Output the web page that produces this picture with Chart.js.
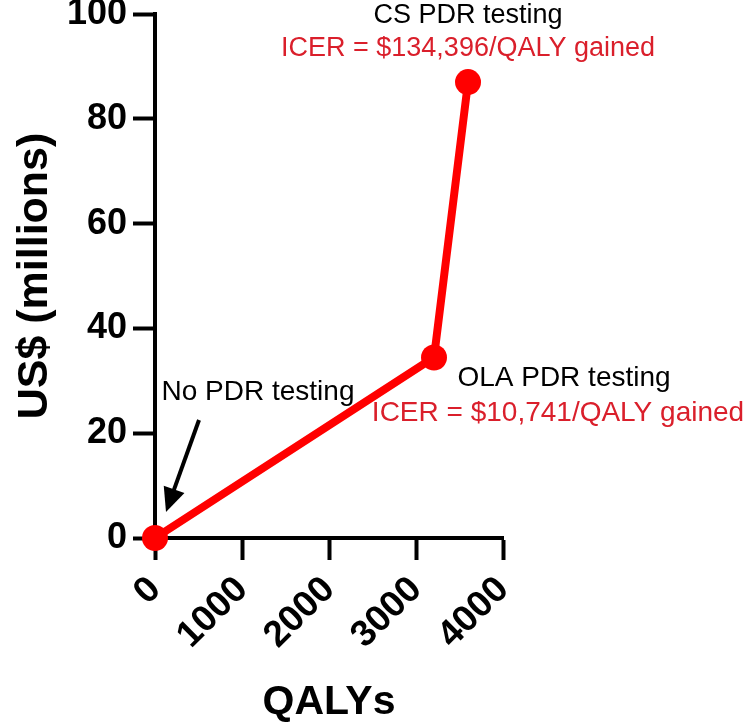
<!DOCTYPE html>
<html>
<head>
<meta charset="utf-8">
<script src="https://cdn.jsdelivr.net/npm/chart.js@4/dist/chart.umd.min.js"></script>
<style>
  html, body { margin: 0; padding: 0; background: #fff; }
  #wrap { width: 750px; height: 723px; }
</style>
</head>
<body>
<div id="wrap"><canvas id="cea"></canvas></div>
<script>
// Strategies on the cost-effectiveness frontier
const strategies = ["No PDR testing", "OLA PDR testing", "CS PDR testing"];
const qalys = [0, 3207, 3598];
const costMillions = [0, 34.45, 87.0];
const icerLabels = ["", "ICER = $10,741/QALY gained", "ICER = $134,396/QALY gained"];

// Axis ticks
const xTicks = [0, 1000, 2000, 3000, 4000];
const yTicks = [0, 20, 40, 60, 80, 100];

const FONT = "'Liberation Sans', Arial, Helvetica, sans-serif";
const lineRed = "#ff0000";
const textRed = "#da1f2b";

// Draws the strategy names, ICER text and the arrow next to the points
const labelPlugin = {
    id: "strategyLabels",
    afterDatasetsDraw(chart) {
        const ctx = chart.ctx;
        const xs = chart.scales.x, ys = chart.scales.y;
        const px = i => xs.getPixelForValue(qalys[i]);
        const py = i => ys.getPixelForValue(costMillions[i]);
        ctx.save();
        ctx.textAlign = "center";
        ctx.textBaseline = "middle";

        // CS PDR testing, above its point
        ctx.font = "27px " + FONT;
        ctx.fillStyle = "#000";
        ctx.fillText(strategies[2], px(2), py(2) - 67);
        ctx.fillStyle = textRed;
        ctx.fillText(icerLabels[2], px(2), py(2) - 34);

        // OLA PDR testing, right of / below its point
        ctx.font = "28px " + FONT;
        ctx.fillStyle = "#000";
        ctx.fillText(strategies[1], px(1) + 130, py(1) + 21);
        ctx.fillStyle = textRed;
        ctx.fillText(icerLabels[1], px(1) + 124, py(1) + 56);

        // No PDR testing with arrow pointing at the origin
        ctx.fillStyle = "#000";
        ctx.fillText(strategies[0], px(0) + 103, py(0) - 146);

        const x0 = px(0) + 44, y0 = py(0) - 118;
        const tx = px(0) + 11, ty = py(0) - 26;
        const len = Math.hypot(tx - x0, ty - y0);
        const ux = (tx - x0) / len, uy = (ty - y0) / len;
        const headLen = 24, headW = 11;
        ctx.strokeStyle = "#000";
        ctx.lineWidth = 4;
        ctx.beginPath();
        ctx.moveTo(x0, y0);
        ctx.lineTo(tx - ux * (headLen - 4), ty - uy * (headLen - 4));
        ctx.stroke();
        ctx.beginPath();
        ctx.moveTo(tx, ty);
        ctx.lineTo(tx - ux * headLen - uy * headW, ty - uy * headLen + ux * headW);
        ctx.lineTo(tx - ux * headLen + uy * headW, ty - uy * headLen - ux * headW);
        ctx.closePath();
        ctx.fill();
        ctx.restore();
    }
};

document.addEventListener("DOMContentLoaded", () => {
    const ctx = document.getElementById("cea").getContext("2d");
    new Chart(ctx, {
        type: "scatter",
        data: {
            datasets: [{
                data: qalys.map((q, i) => ({ x: q, y: costMillions[i] })),
                showLine: true,
                borderColor: lineRed,
                borderWidth: 8,
                backgroundColor: lineRed,
                pointRadius: 13,
                pointBorderWidth: 0,
                pointBackgroundColor: lineRed,
                clip: false,
            }],
        },
        options: {
            responsive: true,
            maintainAspectRatio: false,
            animation: false,
            layout: { padding: { top: 14, right: 247, left: 0, bottom: 0 } },
            plugins: { legend: { display: false }, tooltip: { enabled: false } },
            scales: {
                x: {
                    type: "linear",
                    min: 0,
                    max: 4000,
                    afterBuildTicks: s => { s.ticks = xTicks.map(v => ({ value: v })); },
                    ticks: {
                        color: "#000",
                        font: { family: FONT, size: 37, weight: "bold" },
                        minRotation: 45,
                        maxRotation: 45,
                        padding: 8,
                        callback: v => String(v),
                    },
                    grid: { drawOnChartArea: false, tickLength: 22, tickWidth: 4, tickColor: "#000" },
                    border: { color: "#000", width: 4 },
                    title: {
                        display: true,
                        text: "QALYs",
                        color: "#000",
                        font: { family: FONT, size: 41, weight: "bold", lineHeight: 1 },
                        padding: 0,
                    },
                    afterFit: s => { s.height = 185; s.paddingLeft = 0; s.paddingRight = 0; },
                },
                y: {
                    type: "linear",
                    min: 0,
                    max: 100,
                    afterBuildTicks: s => { s.ticks = yTicks.map(v => ({ value: v })); },
                    ticks: {
                        color: "#000",
                        font: { family: FONT, size: 36, weight: "bold" },
                        padding: 6,
                    },
                    grid: { drawOnChartArea: false, tickLength: 22, tickWidth: 4, tickColor: "#000" },
                    border: { color: "#000", width: 4 },
                    title: {
                        display: true,
                        text: "US$ (millions)",
                        color: "#000",
                        font: { family: FONT, size: 43, weight: "bold", lineHeight: 1 },
                        padding: { top: 14, bottom: 0 },
                    },
                    afterFit: s => { s.width = 155; s.paddingTop = 0; s.paddingBottom = 0; },
                },
            },
        },
        plugins: [labelPlugin],
    });
});
</script>
</body>
</html>
